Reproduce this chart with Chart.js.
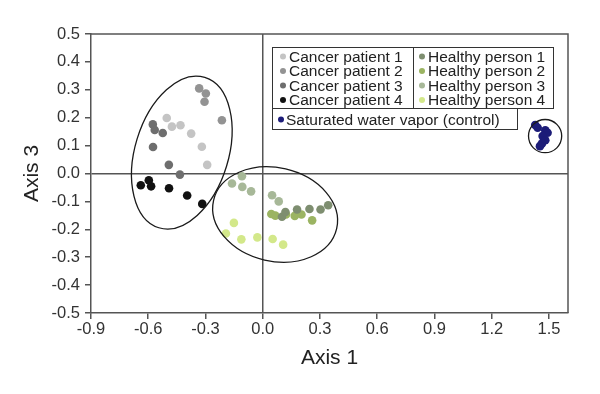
<!DOCTYPE html>
<html>
<head>
<meta charset="utf-8">
<script src="https://cdn.jsdelivr.net/npm/chart.js@4/dist/chart.umd.min.js"></script>
<style>
  body { margin: 0; background: #fff; }
  canvas { display: block; }
</style>
</head>
<body>
<canvas id="chart" width="600" height="394"></canvas>
<script>
// PCA scores (Axis 1, Axis 3)
const seriesLabels = [
  "Cancer patient 1", "Cancer patient 2", "Cancer patient 3", "Cancer patient 4",
  "Healthy person 1", "Healthy person 2", "Healthy person 3", "Healthy person 4",
  "Saturated water vapor (control)"
];

const cancer1 = [[-0.503, 0.199], [-0.476, 0.168], [-0.431, 0.173], [-0.375, 0.143], [-0.319, 0.096], [-0.291, 0.031]];
const cancer2 = [[-0.333, 0.305], [-0.298, 0.287], [-0.305, 0.257], [-0.214, 0.191]];
const cancer3 = [[-0.576, 0.176], [-0.566, 0.156], [-0.524, 0.145], [-0.575, 0.095], [-0.492, 0.031], [-0.434, -0.004]];
const cancer4 = [[-0.639, -0.042], [-0.597, -0.024], [-0.585, -0.046], [-0.491, -0.053], [-0.396, -0.079], [-0.317, -0.109]];
const healthy1 = [[0.101, -0.155], [0.119, -0.138], [0.180, -0.129], [0.245, -0.127], [0.303, -0.129], [0.343, -0.114]];
const healthy2 = [[0.045, -0.145], [0.066, -0.151], [0.122, -0.147], [0.168, -0.152], [0.203, -0.147], [0.259, -0.168]];
const healthy3 = [[-0.109, -0.010], [-0.161, -0.036], [-0.107, -0.048], [-0.061, -0.064], [0.049, -0.078], [0.084, -0.100]];
const healthy4 = [[-0.151, -0.177], [-0.193, -0.215], [-0.112, -0.236], [-0.028, -0.229], [0.052, -0.235], [0.107, -0.255]];
const control = [[1.428, 0.174], [1.441, 0.164], [1.481, 0.155], [1.493, 0.146], [1.467, 0.134], [1.481, 0.119], [1.463, 0.107], [1.453, 0.098]];

const xTicks = [-0.9, -0.6, -0.3, 0.0, 0.3, 0.6, 0.9, 1.2, 1.5];
const yTicks = [-0.5, -0.4, -0.3, -0.2, -0.1, 0.0, 0.1, 0.2, 0.3, 0.4, 0.5];

// group outlines: centre in data units, radii in x-axis units, tilt in degrees
const groupOutlines = [
  { cx: -0.424, cy: 0.075, rx: 0.245, ry: 0.412, tilt: 17 },  // cancer
  { cx: 0.065, cy: -0.147, rx: 0.331, ry: 0.245, tilt: 13 },  // healthy
  { cx: 1.480, cy: 0.134, rx: 0.087, ry: 0.087, tilt: 0 }     // control
];

const pointColors = ["#c4c4c4", "#939393", "#6e6e6e", "#111111",
                     "#7e8e70", "#9bb462", "#a7b898", "#d3e88a", "#1c1c78"];
const allSeries = [cancer1, cancer2, cancer3, cancer4, healthy1, healthy2, healthy3, healthy4, control];

const FONT = "'Liberation Sans', Arial, Helvetica, sans-serif";
const AXIS = "#555555";

const outlinePlugin = {
  id: "outlines",
  afterDatasetsDraw(chart) {
    const { ctx, chartArea: a, scales: { x, y } } = chart;
    const unit = x.getPixelForValue(1) - x.getPixelForValue(0);
    ctx.save();
    ctx.strokeStyle = "#1a1a1a";
    ctx.lineWidth = 1.3;
    groupOutlines.forEach(o => {
      ctx.beginPath();
      ctx.ellipse(x.getPixelForValue(o.cx), y.getPixelForValue(o.cy),
        o.rx * unit, o.ry * unit, o.tilt * Math.PI / 180, 0, Math.PI * 2);
      ctx.stroke();
    });
    // top and right frame
    ctx.strokeStyle = AXIS;
    ctx.lineWidth = 1.5;
    ctx.beginPath();
    ctx.moveTo(a.left, a.top);
    ctx.lineTo(a.right, a.top);
    ctx.lineTo(a.right, a.bottom);
    ctx.stroke();
    ctx.restore();
  }
};

const legendPlugin = {
  id: "boxLegend",
  afterDraw(chart) {
    const { ctx } = chart;
    const ds = chart.data.datasets;
    const left = 272, top = 47, mid = 413, right = 553, rowH = 14.5;
    const rowsBottom = 108, vaporRight = 517, vaporBottom = 129;
    ctx.save();
    ctx.fillStyle = "#fff";
    ctx.fillRect(left, top, right - left, rowsBottom - top);
    ctx.fillRect(left, rowsBottom, vaporRight - left, vaporBottom - rowsBottom);
    ctx.strokeStyle = "#333";
    ctx.lineWidth = 1;
    ctx.strokeRect(left + 0.5, top + 0.5, right - left, rowsBottom - top);
    ctx.beginPath();
    ctx.moveTo(mid + 0.5, top);
    ctx.lineTo(mid + 0.5, rowsBottom);
    ctx.stroke();
    ctx.strokeRect(left + 0.5, rowsBottom + 0.5, vaporRight - left, vaporBottom - rowsBottom);

    ctx.font = "15.5px " + FONT;
    ctx.textBaseline = "middle";
    ctx.textAlign = "left";
    const item = (i, mx, my, gap) => {
      ctx.fillStyle = ds[i].backgroundColor;
      ctx.beginPath();
      ctx.arc(mx, my, 3, 0, Math.PI * 2);
      ctx.fill();
      ctx.fillStyle = "#222";
      ctx.fillText(ds[i].label, mx + gap, my + 1);
    };
    for (let r = 0; r < 4; r++) {
      item(r, left + 11, top + 9.5 + r * rowH, 6);
      item(r + 4, mid + 9, top + 9.5 + r * rowH, 6);
    }
    item(8, left + 9, rowsBottom + 11.5, 5);
    ctx.restore();
  }
};

new Chart(document.getElementById("chart"), {
  type: "scatter",
  data: {
    datasets: allSeries.map((pts, i) => ({
      label: seriesLabels[i],
      data: pts.map(p => ({ x: p[0], y: p[1] })),
      backgroundColor: pointColors[i],
      borderWidth: 0,
      pointRadius: 4.3,
    })),
  },
  options: {
    responsive: false,
    animation: false,
    devicePixelRatio: 1,
    layout: { padding: { top: 34, right: 32, left: 0, bottom: 0 } },
    plugins: {
      legend: { display: false },
      tooltip: { enabled: false },
    },
    scales: {
      x: {
        type: "linear",
        min: -0.9,
        max: 1.6,
        afterBuildTicks: (s) => { s.ticks = xTicks.map(v => ({ value: v })); },
        afterFit: (s) => { s.height = 81; },
        ticks: {
          padding: 1,
          color: "#333",
          font: { family: FONT, size: 16.5 },
          callback: (v) => Number(v).toFixed(1),
        },
        grid: {
          color: (c) => (c.tick && c.tick.value === 0 ? AXIS : "rgba(0,0,0,0)"),
          tickColor: AXIS,
          tickLength: 6,
          lineWidth: 1.5,
        },
        border: { display: true, color: AXIS, width: 1.5 },
        title: {
          display: true,
          text: "Axis 1",
          color: "#222",
          font: { family: FONT, size: 21 },
          padding: { top: 0, bottom: 23 },
        },
      },
      y: {
        type: "linear",
        min: -0.5,
        max: 0.5,
        afterBuildTicks: (s) => { s.ticks = yTicks.map(v => ({ value: v })); },
        afterFit: (s) => { s.width = 91; },
        ticks: {
          padding: 5,
          color: "#333",
          font: { family: FONT, size: 16.5 },
          callback: (v) => Number(v).toFixed(1),
        },
        grid: {
          color: (c) => (c.tick && c.tick.value === 0 ? AXIS : "rgba(0,0,0,0)"),
          tickColor: AXIS,
          tickLength: 6,
          lineWidth: 1.5,
        },
        border: { display: true, color: AXIS, width: 1.5 },
        title: {
          display: true,
          text: "Axis 3",
          color: "#222",
          font: { family: FONT, size: 21 },
          padding: { top: 20, bottom: 0 },
        },
      },
    },
  },
  plugins: [outlinePlugin, legendPlugin],
});
</script>
</body>
</html>
